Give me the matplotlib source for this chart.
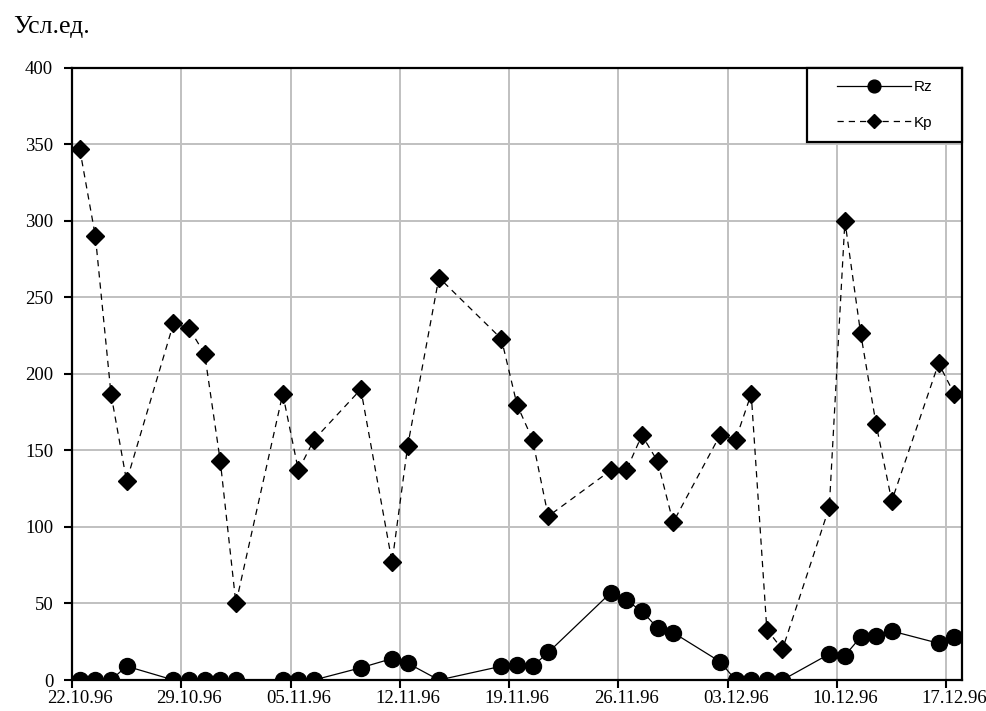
from datetime import datetime, timedelta

import matplotlib
matplotlib.use("Agg")
import matplotlib.pyplot as plt
from matplotlib.legend_handler import HandlerLine2D

# observation dates (dd.mm.yy)
DATES = [
    "22.10.96", "23.10.96", "24.10.96", "25.10.96", "28.10.96", "29.10.96",
    "30.10.96", "31.10.96", "01.11.96", "04.11.96", "05.11.96", "06.11.96",
    "09.11.96", "11.11.96", "12.11.96", "14.11.96", "18.11.96", "19.11.96",
    "20.11.96", "21.11.96", "25.11.96", "26.11.96", "27.11.96", "28.11.96",
    "29.11.96", "02.12.96", "03.12.96", "04.12.96", "05.12.96", "06.12.96",
    "09.12.96", "10.12.96", "11.12.96", "12.12.96", "13.12.96", "16.12.96",
    "17.12.96",
]
RZ = [0, 0, 0, 9, 0, 0, 0, 0, 0, 0, 0, 0, 8, 14, 11, 0, 9, 10, 9, 18,
      57, 52, 45, 34, 31, 12, 0, 0, 0, 0, 17, 16, 28, 29, 32, 24, 28]
KP = [347, 290, 187, 130, 233, 230, 213, 143, 50, 187, 137, 157, 190, 77,
      153, 263, 223, 180, 157, 107, 137, 137, 160, 143, 103, 160, 157, 187,
      33, 20, 113, 300, 227, 167, 117, 207, 187]
X_LABELS = ["22.10.96", "29.10.96", "05.11.96", "12.11.96", "19.11.96",
            "26.11.96", "03.12.96", "10.12.96", "17.12.96"]
Y_TICKS = [0, 50, 100, 150, 200, 250, 300, 350, 400]
START, END = "22.10.96", "18.12.96"

SERIF = "Liberation Serif"
SANS = "Liberation Sans"
HALF_DAY = timedelta(hours=12)


def parse(s):
    return datetime.strptime(s, "%d.%m.%y")


def main():
    fig = plt.figure(figsize=(9.87, 7.11), dpi=100)
    ax = fig.add_axes([0.0729, 0.0436, 0.9018, 0.8608])

    # Excel-style date axis: points sit in the middle of each day
    xs = [parse(d) + HALF_DAY for d in DATES]

    ax.plot(xs, RZ, color="black", linewidth=0.9, marker="o",
            markersize=11.5, label="Rz", zorder=3)
    ax.plot(xs, KP, color="black", linewidth=0.9, linestyle=(0, (5, 4)),
            marker="D", markersize=9.5, label="Kp", zorder=3)

    ax.set_xlim(parse(START), parse(END))
    ax.set_ylim(0, 400)
    ax.set_yticks(Y_TICKS)

    # gridlines/ticks on day boundaries, labels centred on the day
    ax.set_xticks([parse(s) for s in X_LABELS])
    ax.set_xticklabels([])
    ax.set_xticks([parse(s) + HALF_DAY for s in X_LABELS], X_LABELS, minor=True)
    ax.tick_params(axis="x", which="minor", length=0, pad=7)

    ax.grid(True, which="major", color="#c0c0c0", linewidth=1.4)
    ax.set_axisbelow(True)
    for sp in ax.spines.values():
        sp.set_linewidth(1.6)
        sp.set_color("black")
    ax.tick_params(which="major", direction="out", length=5.5, width=1.5,
                   color="black")
    ax.tick_params(axis="y", pad=8)
    for lab in (ax.get_xticklabels(minor=True) + ax.get_yticklabels()):
        lab.set_fontfamily(SERIF)
        lab.set_fontsize(13.5)

    fig.text(0.013, 1 - 33 / 711, "Усл.ед.", family=SERIF, fontsize=18.5,
             ha="left", va="baseline")

    # legend box glued to the top-right corner, 155 px wide
    leg_w = 155 / (0.9018 * 987)
    handler = {ln: HandlerLine2D(xpad=1.15) for ln in ax.get_lines()}
    leg = ax.legend(loc="upper right", bbox_to_anchor=(1 - leg_w, 0, leg_w, 1.0),
                    mode="expand", borderaxespad=0,
                    prop={"family": SANS, "size": 11},
                    handlelength=6.0, labelspacing=1.38, markerscale=0.8,
                    borderpad=0.82, handletextpad=0.15, fancybox=False,
                    framealpha=1, handler_map=handler)
    leg.get_frame().set_edgecolor("black")
    leg.get_frame().set_linewidth(1.6)

    fig.savefig("out.png", dpi=100)
    plt.close(fig)


if __name__ == "__main__":
    main()
